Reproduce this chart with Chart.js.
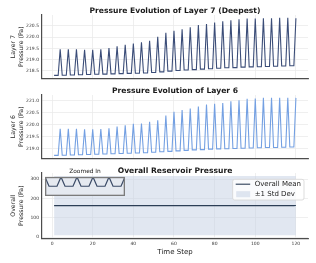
<!DOCTYPE html>
<html>
<head>
<meta charset="utf-8">
<script src="https://cdn.jsdelivr.net/npm/chart.js@4.4.1/dist/chart.umd.min.js"></script>
<style>
  html, body { margin: 0; padding: 0; background: #fff; }
  #wrap { position: relative; width: 316px; height: 263px; overflow: hidden; }
  canvas { position: absolute; }
</style>
</head>
<body>
<div id="wrap">
  <canvas id="layer7Chart" width="316" height="84" style="left:0;top:0"></canvas>
  <canvas id="layer6Chart" width="316" height="84" style="left:0;top:80px"></canvas>
  <canvas id="overallChart" width="316" height="103" style="left:0;top:160px"></canvas>
  <canvas id="insetChart" width="80" height="30" style="left:45px;top:166px"></canvas>
</div>
<script>
// --- data ---
// one peak every 4th time step (4, 8, ... 120), troughs on the 3 steps before each peak
const layer7Peaks = [219.46, 219.46, 219.46, 219.43, 219.43, 219.46, 219.51, 219.59, 219.66, 219.71,
                     219.77, 219.84, 220.02, 220.19, 220.28, 220.35, 220.44, 220.54, 220.59, 220.65,
                     220.71, 220.75, 220.80, 220.83, 220.83, 220.84, 220.84, 220.86, 220.86, 220.84];
const layer7Troughs = [218.29, 218.30, 218.31, 218.32, 218.33, 218.34, 218.35, 218.36, 218.37, 218.38,
                       218.39, 218.40, 218.42, 218.45, 218.48, 218.51, 218.53, 218.55, 218.57, 218.59,
                       218.61, 218.63, 218.64, 218.66, 218.67, 218.68, 218.69, 218.70, 218.71, 218.72];
const layer6Peaks = [219.83, 219.83, 219.83, 219.81, 219.81, 219.82, 219.85, 219.92, 219.97, 220.03,
                     220.04, 220.12, 220.18, 220.38, 220.53, 220.61, 220.67, 220.75, 220.83, 220.86,
                     220.90, 220.97, 221.01, 221.07, 221.08, 221.11, 221.11, 221.11, 221.11, 221.11];
const layer6Troughs = [218.72, 218.73, 218.74, 218.75, 218.76, 218.77, 218.78, 218.79, 218.80, 218.81,
                       218.82, 218.83, 218.85, 218.87, 218.89, 218.91, 218.93, 218.95, 218.96, 218.98,
                       218.99, 219.00, 219.01, 219.02, 219.03, 219.04, 219.05, 219.05, 219.06, 219.07];
// overall mean repeats this 4-step cycle; the band is +-1 std around it
const meanCycle = [162.9, 162.9, 162.9, 163.4];
const stdLower = 9;
const stdUpper = 317;
// inset: steps 4..24 of the mean
const insetSteps = [4, 5, 6, 7, 8, 9, 10, 11, 12, 13, 14, 15, 16, 17, 18, 19, 20, 21, 22, 23, 24];
const insetMean = [163.4, 162.9, 162.9, 162.9, 163.4, 162.9, 162.9, 162.9, 163.4, 162.9, 162.9,
                   162.9, 163.4, 162.9, 162.9, 162.9, 163.4, 162.9, 162.9, 162.9, 163.4];

const timeTicks = [0, 20, 40, 60, 80, 100, 120];
const layer7Ticks = [218.5, 219.0, 219.5, 220.0, 220.5];
const layer6Ticks = [219.0, 219.5, 220.0, 220.5, 221.0];
const overallTicks = [0, 100, 200, 300];

const FIRST_STEP = 1, LAST_STEP = 120;

function buildSeries(peaks, troughs) {
  const pts = [];
  for (let t = FIRST_STEP; t <= LAST_STEP; t++) {
    const k = Math.floor((t - 1) / 4);
    pts.push({ x: t, y: t % 4 === 0 ? peaks[k] : troughs[k] });
  }
  return pts;
}

// matplotlib-like 5% margins
function padded(lo, hi) {
  const m = (hi - lo) * 0.05;
  return [lo - m, hi + m];
}

const FONT = 'DejaVu Sans';
const GRID = '#ebebeb';
const SPINE = '#4d4d4d';
const [xMin, xMax] = padded(FIRST_STEP, LAST_STEP);

function xScale(showLabels, height) {
  return {
    type: 'linear', min: xMin, max: xMax,
    afterBuildTicks: s => { s.ticks = timeTicks.map(v => ({ value: v })); },
    afterFit: s => { s.height = height; },
    grid: { color: GRID, lineWidth: 0.8, drawTicks: false },
    border: { display: true, color: SPINE, width: 1.2 },
    ticks: { display: showLabels, padding: 2.5, color: '#333', maxRotation: 0, autoSkip: false,
             font: { family: FONT, size: 4.5 } },
    title: { display: showLabels, text: 'Time Step', color: '#222',
             font: { family: FONT, size: 7, lineHeight: 1.2 }, padding: { top: 0, bottom: 7 } }
  };
}

function yScale(limits, ticks, digits, titleLines) {
  return {
    type: 'linear', min: limits[0], max: limits[1],
    afterBuildTicks: s => { s.ticks = ticks.map(v => ({ value: v })); },
    afterFit: s => { s.width = 42; },
    grid: { color: GRID, lineWidth: 0.8, drawTicks: false },
    border: { display: true, color: SPINE, width: 1.2 },
    ticks: { padding: 3, color: '#333', font: { family: FONT, size: 4.5 },
             callback: v => Number(v).toFixed(digits) },
    title: { display: true, text: titleLines, color: '#222',
             font: { family: FONT, size: 6.2, lineHeight: 1.3 }, padding: { top: 9.5, bottom: 0 } }
  };
}

function titleOpts(text, padTop, lineHeight) {
  return {
    display: true, text, fullSize: false, color: '#1a1a1a',
    font: { family: FONT, size: 7.6, weight: 'bold', lineHeight },
    padding: { top: padTop, bottom: 0 }
  };
}

function layerChart(id, label, peaks, troughs, ticks, color, title) {
  const data = buildSeries(peaks, troughs);
  const limits = padded(Math.min(...troughs), Math.max(...peaks));
  return new Chart(document.getElementById(id), {
    type: 'line',
    data: { datasets: [{ label, data, borderColor: color, borderWidth: 1.1, pointRadius: 0, tension: 0, fill: false }] },
    options: {
      responsive: false, animation: false,
      layout: { padding: { left: 0, right: 8, top: 0, bottom: 0 } },
      plugins: { legend: { display: false }, tooltip: { enabled: false }, title: titleOpts(title, 7.4, 1) },
      scales: { x: xScale(false, 5), y: yScale(limits, ticks, 1, [label.split(' Pressure')[0], 'Pressure (Pa)']) }
    }
  });
}

layerChart('layer7Chart', 'Layer 7 Pressure', layer7Peaks, layer7Troughs, layer7Ticks, '#3b4d78',
           'Pressure Evolution of Layer 7 (Deepest)');
layerChart('layer6Chart', 'Layer 6 Pressure', layer6Peaks, layer6Troughs, layer6Ticks, '#74a0e2',
           'Pressure Evolution of Layer 6');

// legend drawn as a framed box in the upper right of the plot area
const boxLegend = {
  id: 'boxLegend',
  afterDraw(chart) {
    const ctx = chart.ctx, area = chart.chartArea;
    const items = chart.data.datasets.filter(d => d.label);
    ctx.save();
    ctx.font = '7px "DejaVu Sans"';
    const textW = Math.max(...items.map(d => ctx.measureText(d.label).width));
    const w = textW + 25, h = 20.7;
    const x = area.right - 4 - w, y = area.top + 6.3;
    ctx.fillStyle = 'rgba(255,255,255,0.85)';
    ctx.strokeStyle = '#d4d4d4';
    ctx.lineWidth = 0.8;
    ctx.beginPath();
    ctx.roundRect(x, y, w, h, 2);
    ctx.fill();
    ctx.stroke();
    items.forEach((d, i) => {
      const cy = y + 4.9 + i * 10;
      if (d.fill) {
        ctx.fillStyle = d.backgroundColor;
        ctx.fillRect(x + 3.5, cy - 3, 14, 6);
      } else {
        ctx.strokeStyle = d.borderColor;
        ctx.lineWidth = 1.1;
        ctx.beginPath();
        ctx.moveTo(x + 3, cy);
        ctx.lineTo(x + 17.5, cy);
        ctx.stroke();
      }
      ctx.fillStyle = '#222';
      ctx.textBaseline = 'middle';
      ctx.fillText(d.label, x + 22, cy);
    });
    ctx.restore();
  }
};

const steps = [];
for (let t = FIRST_STEP; t <= LAST_STEP; t++) steps.push(t);
const meanData = steps.map(t => ({ x: t, y: meanCycle[(t - 1) % 4] }));
const upperData = steps.map(t => ({ x: t, y: stdUpper }));
const lowerData = steps.map(t => ({ x: t, y: stdLower }));

new Chart(document.getElementById('overallChart'), {
  type: 'line',
  data: {
    datasets: [
      { label: 'Overall Mean', data: meanData, borderColor: '#2c3e56', borderWidth: 1.1, pointRadius: 0, fill: false },
      { label: '±1 Std Dev', data: upperData, borderWidth: 0, borderColor: 'rgba(0,0,0,0)', pointRadius: 0,
        backgroundColor: 'rgba(196,208,228,0.5)', fill: '+1' },
      { data: lowerData, borderWidth: 0, borderColor: 'rgba(0,0,0,0)', pointRadius: 0, fill: false }
    ]
  },
  options: {
    responsive: false, animation: false,
    layout: { padding: { left: 0, right: 8, top: 0, bottom: 0 } },
    plugins: { legend: { display: false }, tooltip: { enabled: false },
               title: titleOpts('Overall Reservoir Pressure', 8.4, '4.6px') },
    scales: { x: xScale(true, 24.7),
              y: yScale(padded(stdLower, stdUpper), overallTicks, 0, ['Overall', 'Pressure (Pa)']) }
  },
  plugins: [boxLegend]
});

// inset frame
const insetFrame = {
  id: 'insetFrame',
  beforeDatasetsDraw(chart) {
    const a = chart.chartArea, ctx = chart.ctx;
    ctx.save();
    ctx.fillStyle = '#e5e9f0';
    ctx.fillRect(a.left, a.top, a.right - a.left, a.bottom - a.top);
    ctx.restore();
  },
  afterDraw(chart) {
    const a = chart.chartArea, ctx = chart.ctx;
    ctx.save();
    ctx.strokeStyle = '#7b7b7b';
    ctx.lineWidth = 1.3;
    ctx.strokeRect(a.left + 0.65, a.top + 0.65, a.right - a.left - 1.3, a.bottom - a.top - 1.3);
    ctx.restore();
  }
};

const insetHi = Math.max(...insetMean), insetLo = Math.min(...insetMean);
new Chart(document.getElementById('insetChart'), {
  type: 'line',
  data: { datasets: [{ data: insetSteps.map((s, i) => ({ x: s, y: insetMean[i] })),
                       borderColor: '#3a4a66', borderWidth: 1.2, pointRadius: 0, fill: false }] },
  options: {
    responsive: false, animation: false,
    layout: { padding: 0 },
    plugins: {
      legend: { display: false }, tooltip: { enabled: false },
      title: { display: true, text: 'Zoomed In', fullSize: false, color: '#222',
               font: { family: FONT, size: 5.9, weight: 'normal', lineHeight: 1 }, padding: { top: 3, bottom: 2 } }
    },
    scales: {
      x: { type: 'linear', display: false, min: insetSteps[0], max: insetSteps[insetSteps.length - 1] },
      y: { type: 'linear', display: false, min: insetHi - (insetHi - insetLo) / 0.49, max: insetHi }
    }
  },
  plugins: [insetFrame]
});
</script>
</body>
</html>
